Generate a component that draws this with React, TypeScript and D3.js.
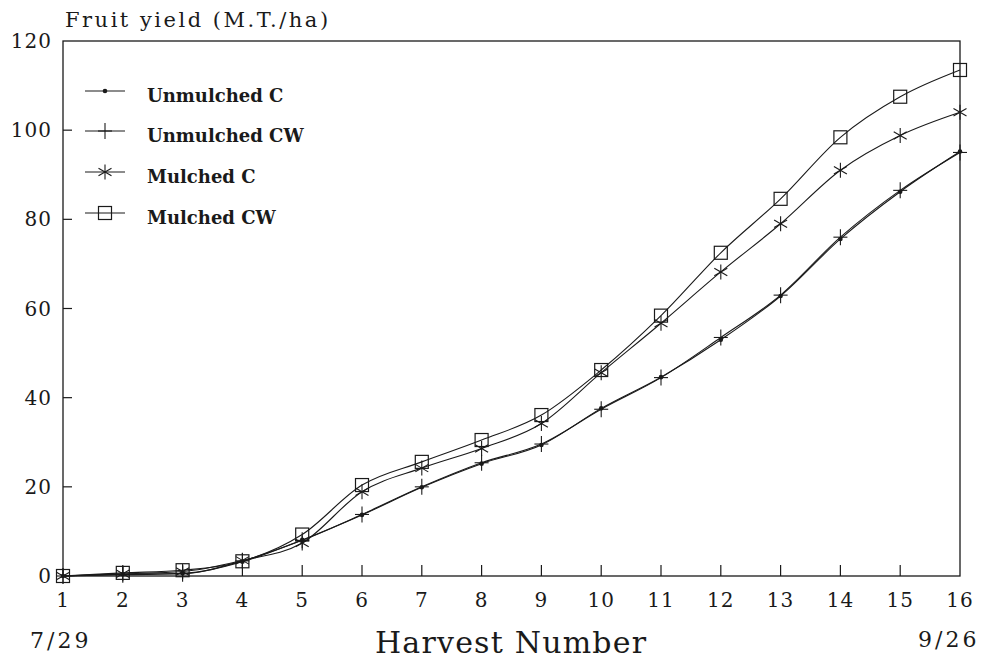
import React from "react";
import * as d3 from "d3";

const harvests = [1, 2, 3, 4, 5, 6, 7, 8, 9, 10, 11, 12, 13, 14, 15, 16];
const unmulchedC = [0, 0.4, 0.6, 3.2, 8.1, 13.7, 19.9, 25.2, 29.4, 37.6, 44.6, 53.0, 62.8, 75.6, 86.2, 95.2];
const unmulchedCW = [0, 0.3, 0.5, 3.4, 8.0, 13.8, 20.0, 25.4, 29.6, 37.4, 44.5, 53.5, 63.0, 76.0, 86.5, 95.0];
const mulchedC = [0, 0.5, 1.0, 3.5, 7.4, 18.9, 24.2, 28.6, 34.2, 45.6, 56.7, 68.2, 79.0, 91.0, 98.8, 104.0];
const mulchedCW = [0, 0.7, 1.3, 3.3, 9.3, 20.4, 25.6, 30.5, 36.1, 46.2, 58.4, 72.5, 84.6, 98.4, 107.5, 113.5];
const seriesNames = ["Unmulched C", "Unmulched CW", "Mulched C", "Mulched CW"];
const seriesMarkers = ["dot", "plus", "star", "square"];
const yTicks = [0, 20, 40, 60, 80, 100, 120];

const INK = "#1a1a1a";
const FONT = "'DejaVu Serif', serif";

function Marker({ type, cx, cy }: { type: string; cx: number; cy: number }) {
  if (type === "dot") return <circle cx={cx} cy={cy} r={2.3} fill={INK} />;
  if (type === "plus")
    return (
      <g stroke={INK} strokeWidth={1.1}>
        <line x1={cx - 7} y1={cy} x2={cx + 7} y2={cy} />
        <line x1={cx} y1={cy - 8} x2={cx} y2={cy + 8} />
      </g>
    );
  if (type === "star") {
    const r = 7.5;
    const angs = [90, 30, -30];
    return (
      <g stroke={INK} strokeWidth={1.1}>
        {angs.map((a) => {
          const t = (a * Math.PI) / 180;
          return (
            <line key={a} x1={cx - r * Math.cos(t)} y1={cy - r * Math.sin(t)} x2={cx + r * Math.cos(t)} y2={cy + r * Math.sin(t)} />
          );
        })}
      </g>
    );
  }
  return <rect x={cx - 6.5} y={cy - 6.5} width={13} height={13} fill="none" stroke={INK} strokeWidth={1.2} />;
}

export default function App() {
  const W = 984, H = 662;
  const left = 63, right = 960, top = 41, bottom = 576;
  const x = d3.scaleLinear().domain([1, 16]).range([left, right]);
  const y = d3.scaleLinear().domain([0, 120]).range([bottom, top]);
  const data = [unmulchedC, unmulchedCW, mulchedC, mulchedCW];
  const line = d3
    .line<number>()
    .x((_, i) => x(harvests[i]))
    .y((v) => y(v))
    .curve(d3.curveMonotoneX);

  const legendY = [91, 131, 172, 213];

  return (
    <svg width={W} height={H} style={{ position: "absolute", left: 0, top: 0, background: "#fff" }} fontFamily={FONT}>
      <rect width={W} height={H} fill="#fff" />
      {/* frame */}
      <rect x={left} y={top} width={right - left} height={bottom - top} fill="none" stroke={INK} strokeWidth={1.3} />
      {/* y ticks */}
      {yTicks.map((t) => (
        <g key={t}>
          {t > 0 && t < 120 && <line x1={left} x2={left + 9} y1={y(t)} y2={y(t)} stroke={INK} strokeWidth={1.2} />}
          <text x={52} y={y(t)} dy="0.35em" textAnchor="end" fontSize={20} letterSpacing={1} fill={INK}>
            {t}
          </text>
        </g>
      ))}
      {/* x ticks */}
      {harvests.map((h) => (
        <g key={h}>
          {h > 1 && h < 16 && <line x1={x(h)} x2={x(h)} y1={bottom} y2={bottom - 11} stroke={INK} strokeWidth={1.2} />}
          <text x={x(h)} y={607} textAnchor="middle" fontSize={20} letterSpacing={1} fill={INK}>
            {h}
          </text>
        </g>
      ))}
      <text x={65} y={27} fontSize={21} letterSpacing={2.5} fill={INK}>
        Fruit yield (M.T./ha)
      </text>
      <text x={30} y={648} fontSize={22} letterSpacing={3} fill={INK}>
        7/29
      </text>
      <text x={918} y={647} fontSize={22} letterSpacing={3} fill={INK}>
        9/26
      </text>
      <text x={375} y={653} fontSize={30} letterSpacing={1.2} fill={INK}>
        Harvest Number
      </text>
      {/* series */}
      {data.map((d, si) => (
        <g key={si}>
          <path d={line(d) || ""} fill="none" stroke={INK} strokeWidth={1.1} />
          {d.map((v, i) => (
            <Marker key={i} type={seriesMarkers[si]} cx={x(harvests[i])} cy={y(v)} />
          ))}
        </g>
      ))}
      {/* legend */}
      {seriesNames.map((n, i) => (
        <g key={n}>
          <line x1={85} x2={125} y1={legendY[i]} y2={legendY[i]} stroke={INK} strokeWidth={1.2} />
          <Marker type={seriesMarkers[i]} cx={105} cy={legendY[i]} />
          <text x={147} y={legendY[i] + 11} fontSize={18} fontWeight="bold" fill={INK}>
            {n}
          </text>
        </g>
      ))}
    </svg>
  );
}
